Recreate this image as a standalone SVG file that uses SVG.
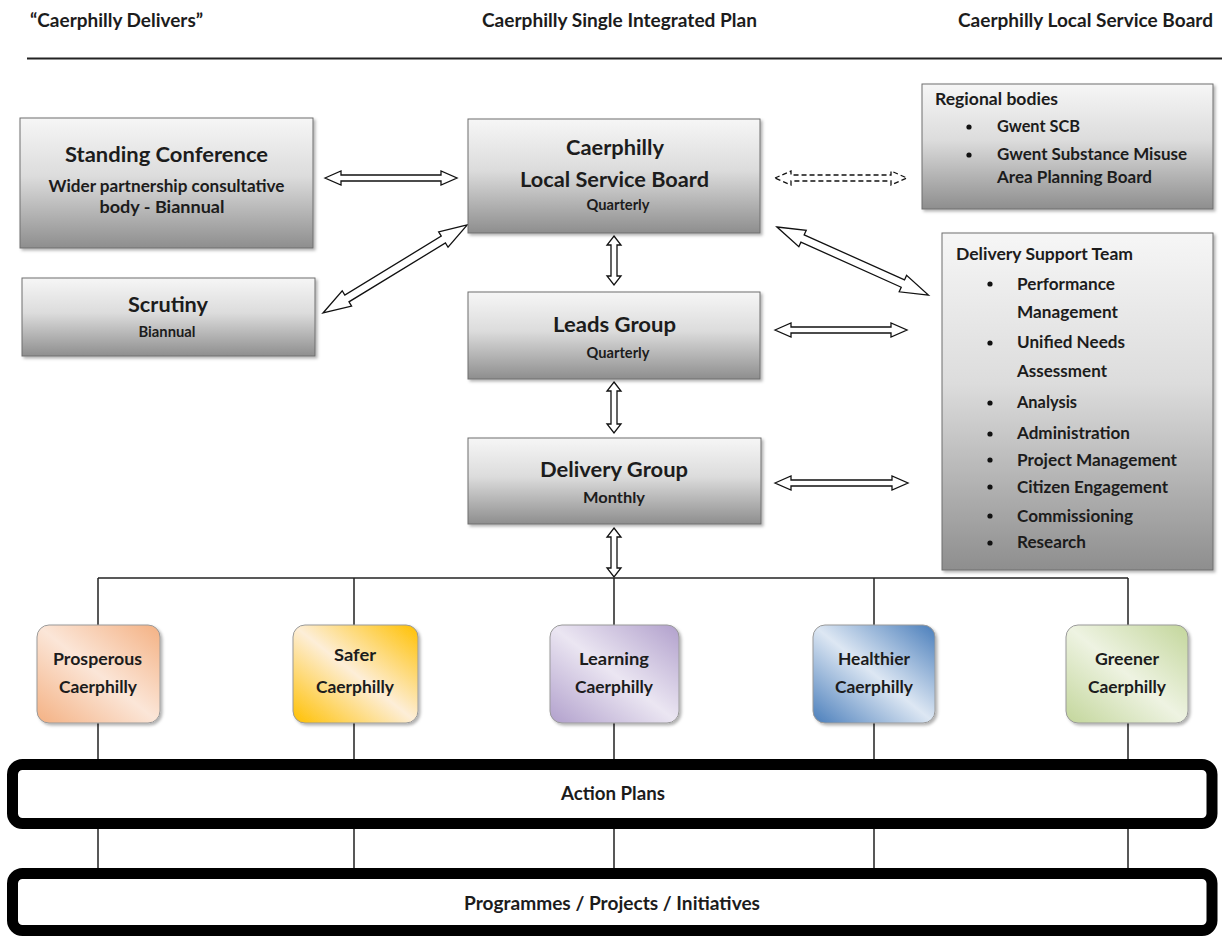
<svg xmlns="http://www.w3.org/2000/svg" width="1222" height="936" viewBox="0 0 1222 936">
<style>
text{font-family:Lato,"Liberation Sans",Arial,sans-serif;font-weight:bold;fill:#1c1c1c}
.c{text-anchor:middle}
.h{font-size:19px}
.t{font-size:21.5px}
.s{font-size:17px}
.q{font-size:14.5px}
.li{font-size:17px}
.b{font-size:17.5px}
.bar{font-size:18.5px}
.gbox{fill:url(#gray);stroke:#6e6e6e;stroke-width:1;filter:url(#sh)}
.cbox{stroke:#9a9a9a;stroke-width:1;filter:url(#sh)}
.arr{fill:#fff;stroke:#111;stroke-width:1.3;stroke-linejoin:miter}
.dash{stroke-dasharray:5 3}
.ln{stroke:#222;stroke-width:1.5;fill:none}
.frame{fill:#fff;stroke:#000;stroke-width:11}
.dot{fill:#111}
</style>
<defs>
<linearGradient id="gray" x1="0" y1="0" x2="0" y2="1">
<stop offset="0" stop-color="#f6f6f6"/>
<stop offset="0.45" stop-color="#dcdcdc"/>
<stop offset="1" stop-color="#8e8e8e"/>
</linearGradient>
<linearGradient id="gPros" x1="0" y1="1" x2="1" y2="0">
<stop offset="0" stop-color="#f4b183"/>
<stop offset="0.5" stop-color="#fbe6d8"/>
<stop offset="1" stop-color="#f4b183"/>
</linearGradient>
<linearGradient id="gSafe" x1="0" y1="1" x2="1" y2="0">
<stop offset="0" stop-color="#ffc000"/>
<stop offset="0.5" stop-color="#fdeed8"/>
<stop offset="1" stop-color="#ffc000"/>
</linearGradient>
<linearGradient id="gLearn" x1="0" y1="1" x2="1" y2="0">
<stop offset="0" stop-color="#b1a0cc"/>
<stop offset="0.5" stop-color="#ebe6f2"/>
<stop offset="1" stop-color="#b1a0cc"/>
</linearGradient>
<linearGradient id="gHealth" x1="0" y1="1" x2="1" y2="0">
<stop offset="0" stop-color="#4a7ebb"/>
<stop offset="0.5" stop-color="#dde7f3"/>
<stop offset="1" stop-color="#4a7ebb"/>
</linearGradient>
<linearGradient id="gGreen" x1="0" y1="1" x2="1" y2="0">
<stop offset="0" stop-color="#c3d69b"/>
<stop offset="0.5" stop-color="#eef3e2"/>
<stop offset="1" stop-color="#c3d69b"/>
</linearGradient>
<filter id="sh" x="-10%" y="-10%" width="130%" height="130%">
<feDropShadow dx="2" dy="2" stdDeviation="1.5" flood-color="#000" flood-opacity="0.3"/>
</filter>
</defs>
<rect width="1222" height="936" fill="#fff"/>

<g id="header">
<text class="h" x="30" y="27" textLength="173" lengthAdjust="spacingAndGlyphs">“Caerphilly Delivers”</text>
<text class="h" x="482" y="27" textLength="275" lengthAdjust="spacingAndGlyphs">Caerphilly Single Integrated Plan</text>
<text class="h" x="958" y="27" textLength="255" lengthAdjust="spacingAndGlyphs">Caerphilly Local Service Board</text>
<line x1="27" y1="58.5" x2="1222" y2="58.5" stroke="#222" stroke-width="2"/>
</g>

<g id="connectors">
<path class="arr" d="M325 178 L341 171 L341 175 L441 175 L441 171 L457 178 L441 185 L441 181 L341 181 L341 185 Z"/>
<path class="arr dash" d="M775 178 L791 171 L791 175 L891 175 L891 171 L907 178 L891 185 L891 181 L791 181 L791 185 Z"/>
<path class="arr" d="M775 330 L791 323 L791 327 L891 327 L891 323 L907 330 L891 337 L891 333 L791 333 L791 337 Z"/>
<path class="arr" d="M775 483 L791 476 L791 480 L892 480 L892 476 L908 483 L892 490 L892 486 L791 486 L791 490 Z"/>
<path class="arr" d="M614 236 L621 245 L617 245 L617 276 L621 276 L614 285 L607 276 L611 276 L611 245 L607 245 Z"/>
<path class="arr" d="M614 382 L621 391 L617 391 L617 424 L621 424 L614 433 L607 424 L611 424 L611 391 L607 391 Z"/>
<path class="arr" d="M614 528 L621 537 L617 537 L617 568 L621 568 L614 577 L607 568 L611 568 L611 537 L607 537 Z"/>
<path class="arr" transform="translate(323 313) rotate(-31.4)" d="M0 0 L28 -9 L28 -4 L141 -4 L141 -9 L169 0 L141 9 L141 4 L28 4 L28 9 Z"/>
<path class="arr" transform="translate(777 227) rotate(24.2)" d="M0 0 L28 -9 L28 -4 L138 -4 L138 -9 L166 0 L138 9 L138 4 L28 4 L28 9 Z"/>
<path class="ln" d="M98 578 H1128"/>
<path class="ln" d="M98 578 V625 M354 578 V625 M614 578 V625 M874 578 V625 M1128 578 V625"/>
<path class="ln" d="M98 723 V760 M354 723 V760 M614 723 V760 M874 723 V760 M1128 723 V760"/>
<path class="ln" d="M98 829 V868 M354 829 V868 M614 829 V868 M874 829 V868 M1128 829 V868"/>
</g>

<g id="standing-conference">
<rect class="gbox" x="20" y="118" width="293" height="130"/>
<text class="t c" x="166.5" y="162" textLength="203" lengthAdjust="spacingAndGlyphs">Standing Conference</text>
<text class="s c" x="166.5" y="192" textLength="236" lengthAdjust="spacingAndGlyphs">Wider partnership consultative</text>
<text class="s c" x="162" y="213" textLength="125" lengthAdjust="spacingAndGlyphs">body - Biannual</text>
</g>

<g id="scrutiny">
<rect class="gbox" x="22" y="278" width="293" height="78"/>
<text class="t c" x="168" y="312" textLength="80" lengthAdjust="spacingAndGlyphs">Scrutiny</text>
<text class="q c" x="167" y="337" textLength="57" lengthAdjust="spacingAndGlyphs">Biannual</text>
</g>

<g id="local-service-board">
<rect class="gbox" x="468" y="119" width="292" height="114"/>
<text class="t c" x="615" y="155" textLength="98" lengthAdjust="spacingAndGlyphs">Caerphilly</text>
<text class="t c" x="614.5" y="187" textLength="189" lengthAdjust="spacingAndGlyphs">Local Service Board</text>
<text class="q c" x="618" y="210" textLength="63" lengthAdjust="spacingAndGlyphs">Quarterly</text>
</g>

<g id="leads-group">
<rect class="gbox" x="468" y="292" width="292" height="87"/>
<text class="t c" x="614.5" y="332" textLength="123" lengthAdjust="spacingAndGlyphs">Leads Group</text>
<text class="q c" x="618" y="358" textLength="63" lengthAdjust="spacingAndGlyphs">Quarterly</text>
</g>

<g id="delivery-group">
<rect class="gbox" x="468" y="438" width="293" height="86"/>
<text class="t c" x="614" y="477" textLength="148" lengthAdjust="spacingAndGlyphs">Delivery Group</text>
<text class="q c" x="614" y="503" textLength="62" lengthAdjust="spacingAndGlyphs">Monthly</text>
</g>

<g id="regional-bodies">
<rect class="gbox" x="922" y="84" width="291" height="125"/>
<text class="li" x="935" y="105" textLength="123" lengthAdjust="spacingAndGlyphs">Regional bodies</text>
<circle class="dot" cx="969" cy="127" r="2.6"/>
<text class="li" x="997" y="132" textLength="83" lengthAdjust="spacingAndGlyphs">Gwent SCB</text>
<circle class="dot" cx="969" cy="155" r="2.6"/>
<text class="li" x="997" y="160" textLength="190" lengthAdjust="spacingAndGlyphs">Gwent Substance Misuse</text>
<text class="li" x="997" y="183" textLength="155" lengthAdjust="spacingAndGlyphs">Area Planning Board</text>
</g>

<g id="delivery-support-team">
<rect class="gbox" x="942" y="233" width="271" height="337"/>
<text class="li" x="956" y="260" textLength="177" lengthAdjust="spacingAndGlyphs">Delivery Support Team</text>
<circle class="dot" cx="990" cy="284" r="2.6"/>
<text class="li" x="1017" y="290" textLength="98" lengthAdjust="spacingAndGlyphs">Performance</text>
<text class="li" x="1017" y="318" textLength="101" lengthAdjust="spacingAndGlyphs">Management</text>
<circle class="dot" cx="990" cy="343" r="2.6"/>
<text class="li" x="1017" y="348" textLength="108" lengthAdjust="spacingAndGlyphs">Unified Needs</text>
<text class="li" x="1017" y="377" textLength="90" lengthAdjust="spacingAndGlyphs">Assessment</text>
<circle class="dot" cx="990" cy="403" r="2.6"/>
<text class="li" x="1017" y="408" textLength="60" lengthAdjust="spacingAndGlyphs">Analysis</text>
<circle class="dot" cx="990" cy="434" r="2.6"/>
<text class="li" x="1017" y="439" textLength="113" lengthAdjust="spacingAndGlyphs">Administration</text>
<circle class="dot" cx="990" cy="460" r="2.6"/>
<text class="li" x="1017" y="466" textLength="160" lengthAdjust="spacingAndGlyphs">Project Management</text>
<circle class="dot" cx="990" cy="487" r="2.6"/>
<text class="li" x="1017" y="493" textLength="151" lengthAdjust="spacingAndGlyphs">Citizen Engagement</text>
<circle class="dot" cx="990" cy="516" r="2.6"/>
<text class="li" x="1017" y="522" textLength="116" lengthAdjust="spacingAndGlyphs">Commissioning</text>
<circle class="dot" cx="990" cy="543" r="2.6"/>
<text class="li" x="1017" y="548" textLength="69" lengthAdjust="spacingAndGlyphs">Research</text>
</g>

<g id="prosperous">
<rect class="cbox" x="37" y="625" width="123" height="98" rx="12" fill="url(#gPros)"/>
<text class="b c" x="97.5" y="665" textLength="89" lengthAdjust="spacingAndGlyphs">Prosperous</text>
<text class="b c" x="98" y="693" textLength="78" lengthAdjust="spacingAndGlyphs">Caerphilly</text>
</g>
<g id="safer">
<rect class="cbox" x="293" y="625" width="125" height="98" rx="12" fill="url(#gSafe)"/>
<text class="b c" x="355" y="661" textLength="42" lengthAdjust="spacingAndGlyphs">Safer</text>
<text class="b c" x="355" y="693" textLength="78" lengthAdjust="spacingAndGlyphs">Caerphilly</text>
</g>
<g id="learning">
<rect class="cbox" x="550" y="625" width="129" height="98" rx="12" fill="url(#gLearn)"/>
<text class="b c" x="614" y="665" textLength="70" lengthAdjust="spacingAndGlyphs">Learning</text>
<text class="b c" x="614" y="693" textLength="78" lengthAdjust="spacingAndGlyphs">Caerphilly</text>
</g>
<g id="healthier">
<rect class="cbox" x="813" y="625" width="122" height="98" rx="12" fill="url(#gHealth)"/>
<text class="b c" x="874" y="665" textLength="72" lengthAdjust="spacingAndGlyphs">Healthier</text>
<text class="b c" x="874" y="693" textLength="78" lengthAdjust="spacingAndGlyphs">Caerphilly</text>
</g>
<g id="greener">
<rect class="cbox" x="1066" y="625" width="122" height="98" rx="12" fill="url(#gGreen)"/>
<text class="b c" x="1127" y="665" textLength="64" lengthAdjust="spacingAndGlyphs">Greener</text>
<text class="b c" x="1127" y="693" textLength="78" lengthAdjust="spacingAndGlyphs">Caerphilly</text>
</g>

<g id="action-plans">
<rect class="frame" x="12.5" y="764.5" width="1199.5" height="59" rx="10"/>
<text class="bar c" x="613" y="800" textLength="104" lengthAdjust="spacingAndGlyphs">Action Plans</text>
</g>
<g id="programmes">
<rect class="frame" x="12.5" y="873.5" width="1199.5" height="57" rx="10"/>
<text class="bar c" x="612" y="910" textLength="296" lengthAdjust="spacingAndGlyphs">Programmes / Projects / Initiatives</text>
</g>
</svg>
